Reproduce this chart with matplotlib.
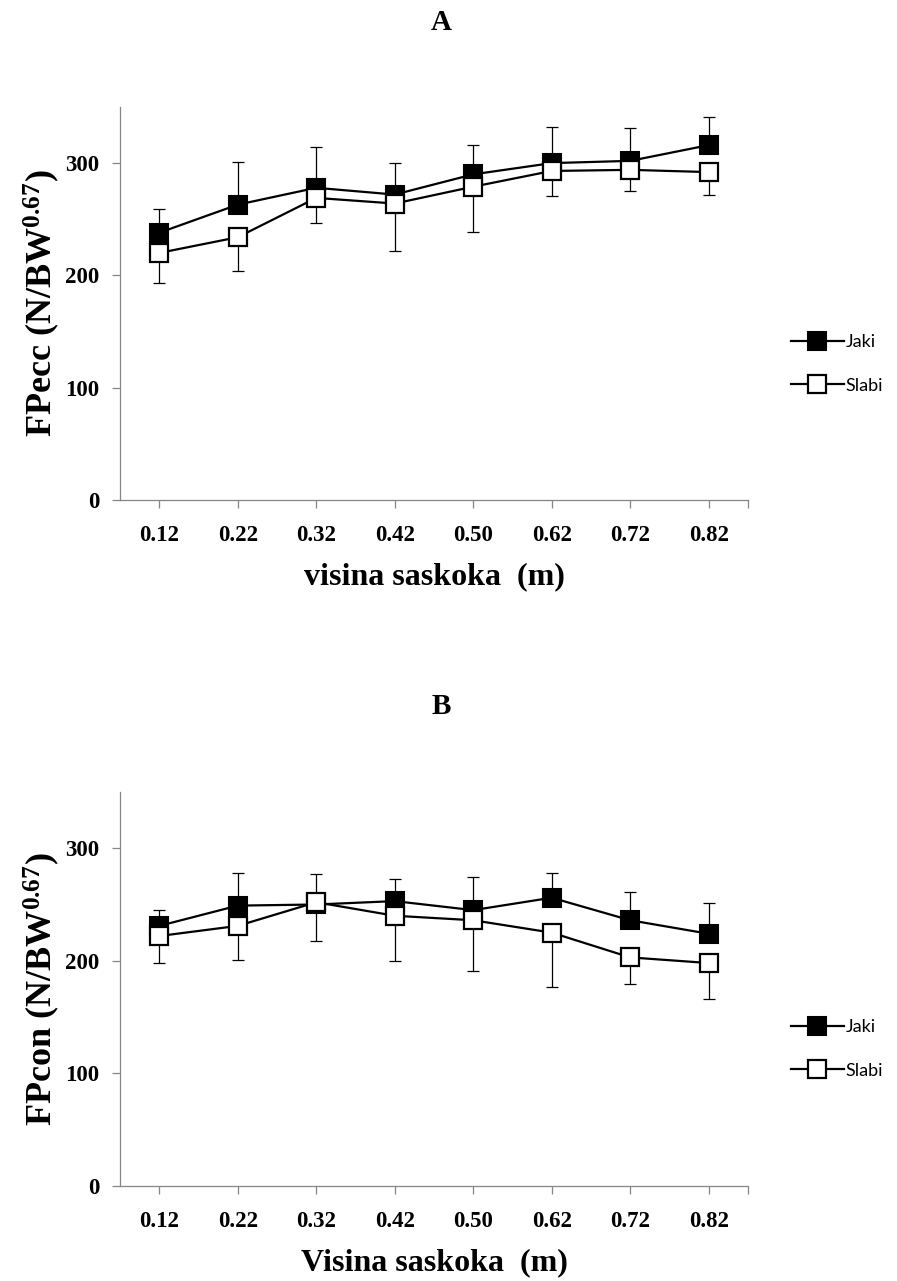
import matplotlib
matplotlib.use('Agg')
import matplotlib.pyplot as plt
import numpy as np

plt.rcParams['mathtext.fontset'] = 'custom'
plt.rcParams['mathtext.rm'] = 'Liberation Serif:bold'
plt.rcParams['mathtext.bf'] = 'Liberation Serif:bold'
plt.rcParams['mathtext.it'] = 'Liberation Serif:bold'

heights = ['0.12', '0.22', '0.32', '0.42', '0.50', '0.62', '0.72', '0.82']

# panel A - eccentric
jaki_a = [238, 263, 278, 272, 290, 300, 302, 316]
jaki_a_err = [21, 38, 36, 28, 26, 32, 29, 25]
slabi_a = [220, 234, 269, 264, 279, 293, 294, 292]
slabi_a_err = [27, 30, 22, 42, 40, 22, 19, 20]

# panel B - concentric
jaki_b = [231, 249, 250, 253, 245, 256, 236, 224]
jaki_b_err = [14, 29, 27, 20, 29, 22, 25, 27]
slabi_b = [222, 231, 252, 240, 236, 225, 203, 198]
slabi_b_err = [24, 30, 34, 40, 45, 48, 24, 32]

serif = dict(family='Liberation Serif', weight='bold')
axis_grey = '#868686'


def draw_panel(ax, jaki, jaki_err, slabi, slabi_err, ylabel, xlabel, leg_y):
    x = np.arange(len(heights))
    zeros = np.zeros(len(x))
    ax.errorbar(x, jaki, yerr=[zeros, jaki_err], fmt='none', ecolor='black',
                elinewidth=0.9, capsize=4.5, capthick=0.9, zorder=1)
    ax.errorbar(x, slabi, yerr=[slabi_err, zeros], fmt='none', ecolor='black',
                elinewidth=0.9, capsize=4.5, capthick=0.9, zorder=1)
    ax.plot(x, jaki, color='black', lw=1.6, marker='s', ms=12.5,
            mfc='black', mec='black', mew=1.5, label='Jaki', zorder=3)
    ax.plot(x, slabi, color='black', lw=1.6, marker='s', ms=12.5,
            mfc='white', mec='black', mew=1.6, label='Slabi', zorder=4)

    ax.set_xlim(-0.5, len(x) - 0.5)
    ax.set_ylim(0, 350)
    ax.set_yticks([0, 100, 200, 300])
    ax.set_xticks(x)
    ax.set_xticklabels(heights)
    ax.set_xticks([len(x) - 0.5], minor=True)

    for s in ['top', 'right']:
        ax.spines[s].set_visible(False)
    for s in ['left', 'bottom']:
        ax.spines[s].set_color(axis_grey)
        ax.spines[s].set_linewidth(0.9)
    ax.tick_params(axis='both', which='both', direction='out', color=axis_grey,
                   length=6, width=0.9)
    ax.tick_params(axis='x', pad=12)
    ax.tick_params(axis='y', pad=9)
    for lab in ax.get_xticklabels() + ax.get_yticklabels():
        lab.set_fontproperties(dict(serif, size=16.5))

    ax.set_ylabel(ylabel, fontsize=26, labelpad=2, **serif)
    ax.set_xlabel(xlabel, fontsize=23, labelpad=12, **serif)

    ax.legend(loc='center left', bbox_to_anchor=(0.872, leg_y),
              bbox_transform=ax.figure.transFigure, frameon=False,
              prop=dict(family='Lato', size=13), handlelength=2.9,
              handletextpad=0.1, labelspacing=1.5, borderpad=0)


fig = plt.figure(figsize=(8.97, 12.81), dpi=100)
ax_a = fig.add_axes([0.1338, 0.6097, 0.700, 0.3068])
ax_b = fig.add_axes([0.1338, 0.0742, 0.700, 0.3076])

draw_panel(ax_a, jaki_a, jaki_a_err, slabi_a, slabi_a_err,
           r'FPecc (N/BW$^{0.67}$)', 'visina saskoka  (m)', 1 - 364 / 1281)
draw_panel(ax_b, jaki_b, jaki_b_err, slabi_b, slabi_b_err,
           r'FPcon (N/BW$^{0.67}$)', 'Visina saskoka  (m)', 1 - 1049 / 1281)

fig.text(441 / 897, 1 - 23 / 1281, 'A', ha='center', va='center', fontsize=21, **serif)
fig.text(441 / 897, 1 - 707 / 1281, 'B', ha='center', va='center', fontsize=21, **serif)

fig.savefig('out.png', dpi=100)
